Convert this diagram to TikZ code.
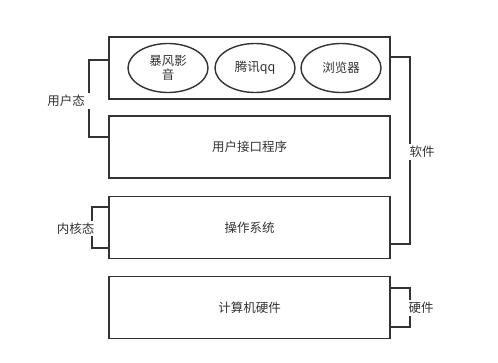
\documentclass[tikz,border=0pt]{standalone}
\usepackage{fontspec}
\setmainfont{Noto Sans CJK SC}
\usetikzlibrary{shapes.geometric}
\definecolor{ink}{HTML}{333333}
\begin{document}
\begin{tikzpicture}[x=1pt,y=-1pt,
  layer/.style={draw=ink,line width=1.8pt,minimum width=281pt,minimum height=62pt,inner sep=0pt,text=ink},
  app/.style={ellipse,draw=ink,line width=1.4pt,minimum width=80pt,minimum height=49pt,inner sep=0pt,text=ink,align=center,font=\fontsize{12.5}{14}\selectfont},
  brace/.style={draw=ink,line width=1.8pt},
  lab/.style={fill=white,text=ink,inner ysep=2pt,font=\fontsize{12.5}{15}\selectfont},
  every node/.append style={font=\fontsize{12.5}{15}\selectfont}]
\useasboundingbox (0,0) rectangle (498,362);
% layers
\node[layer] (apps) at (249.5,68) {};
\node[layer] (ui) at (249.5,147) {用户接口程序};
\node[layer] (os) at (249.5,227.5) {操作系统};
\node[layer] (hw) at (249.5,307.5) {计算机硬件};
% apps
\node[app] (a1) at (168,68) {暴风影\\音};
\node[app] (a2) at (255,68) {腾讯qq};
\node[app] (a3) at (341,68) {浏览器};
% brackets
\coordinate (u1) at (109,60);
\coordinate (u2) at (109,137);
\draw[brace] (u1) -- (89,60) -- (89,137) -- (u2);
\node[lab,inner xsep=5.5pt] (userl) at (66,101) {用户态};
\coordinate (k1) at (109,207);
\coordinate (k2) at (109,248);
\draw[brace] (k1) -- (92,207) -- (92,248) -- (k2);
\node[lab,inner xsep=1pt] (kernl) at (75.5,228.5) {内核态};
\coordinate (s1) at (390,57);
\coordinate (s2) at (390,244);
\draw[brace] (s1) -- (410,57) -- (410,244) -- (s2);
\node[lab,inner xsep=1pt] (softl) at (422,152) {软件};
\coordinate (h1) at (390,288);
\coordinate (h2) at (390,327);
\draw[brace] (h1) -- (410,288) -- (410,327) -- (h2);
\node[lab,inner xsep=1pt] (hardl) at (421,308) {硬件};
\end{tikzpicture}
\end{document}
